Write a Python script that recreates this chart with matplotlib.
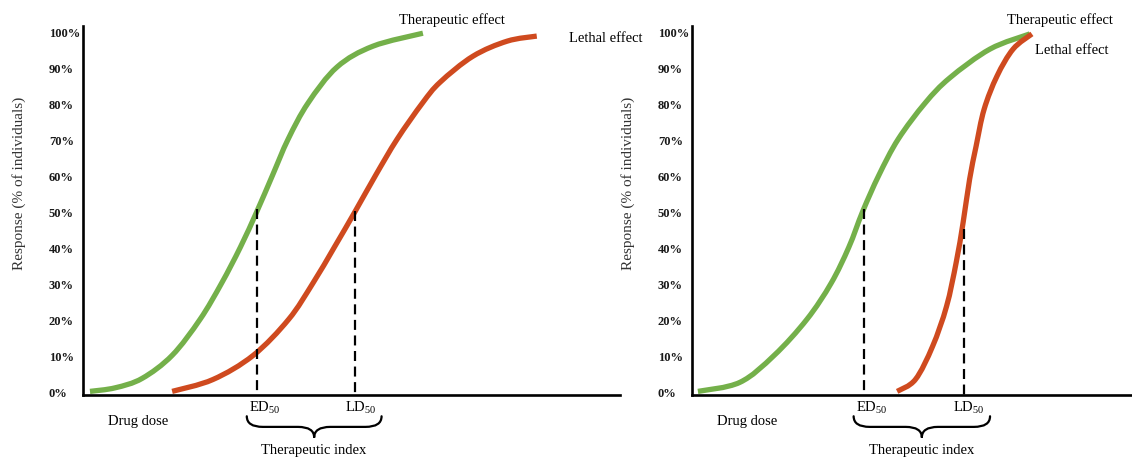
import matplotlib
matplotlib.use("Agg")
import matplotlib.pyplot as plt
from matplotlib.path import Path
from matplotlib.patches import PathPatch

plt.rcParams['font.family'] = ['Liberation Serif', 'DejaVu Serif']
plt.rcParams['mathtext.fontset'] = 'custom'
plt.rcParams['mathtext.rm'] = 'Liberation Serif'
plt.rcParams['mathtext.it'] = 'Liberation Serif'

GREEN = '#74B04A'
RED = '#CF4A1F'

# dose (arbitrary units) vs response (%)
# left panel: wide therapeutic index
left_ther_dose = [1.3, 6.0, 11.0, 16.6, 21.8, 25.8, 29.3, 32.4, 35.3, 38.2, 41.9, 47.3, 54.0, 63.3]
left_ther_resp = [0, 1, 3.6, 10, 20, 30, 40, 50, 60, 70, 80, 90, 95.8, 99.4]
left_leth_dose = [16.6, 24.2, 31.7, 38.3, 42.8, 46.8, 50.7, 54.5, 58.5, 63.2, 66.5, 72.6, 79.0, 84.5]
left_leth_resp = [0, 3.3, 10, 20, 30, 40, 50, 60, 70, 80, 85.8, 93, 97.2, 98.6]

# right panel: narrow therapeutic index
right_ther_dose = [1.1, 8.9, 15.3, 21.4, 25.9, 29.2, 31.8, 34.8, 38.4, 43.4, 48.0, 55.5, 62.9]
right_ther_resp = [0, 2.5, 10, 20, 30, 40, 50, 60, 70, 80, 87, 95, 99.2]
right_leth_dose = [38.2, 41.6, 44.8, 47.4, 49.2, 50.5, 51.7, 52.9, 54.4, 56.8, 59.8, 63.3]
right_leth_resp = [0, 3.3, 12.5, 23.6, 35.8, 47, 58.9, 68, 78.3, 87.5, 95, 99.2]

# ED50 / LD50 markers: (dose, top of dashed line)
left_ed50 = (32.4, 50.5)
left_ld50 = (50.7, 50)
right_ed50 = (32.0, 50.5)
right_ld50 = (50.6, 45)

yticks = list(range(0, 101, 10))
ytick_labels = [f"{v}%" for v in yticks]


def smooth_curve(ax, xs, ys, color):
    # Catmull-Rom through the read points, drawn as cubic Bezier segments
    pts = list(zip(xs, ys))
    ext = [pts[0]] + pts + [pts[-1]]
    verts = [pts[0]]
    codes = [Path.MOVETO]
    for i in range(1, len(ext) - 2):
        p0, p1, p2, p3 = ext[i - 1], ext[i], ext[i + 1], ext[i + 2]
        c1 = (p1[0] + (p2[0] - p0[0]) / 6, p1[1] + (p2[1] - p0[1]) / 6)
        c2 = (p2[0] - (p3[0] - p1[0]) / 6, p2[1] - (p3[1] - p1[1]) / 6)
        verts += [c1, c2, p2]
        codes += [Path.CURVE4] * 3
    ax.add_patch(PathPatch(Path(verts, codes), fill=False, lw=3.8,
                           edgecolor=color, capstyle='butt', joinstyle='round',
                           clip_on=False))


def brace(ax, x0, x1, ytop, ybot, d=3.0):
    xm = (x0 + x1) / 2
    ym = (ytop + ybot) / 2
    verts = [(x0, ytop), (x0, ym), (x0 + d, ym),
             (xm - d, ym),
             (xm, ym), (xm, ybot),
             (xm, ym), (xm + d, ym),
             (x1 - d, ym),
             (x1, ym), (x1, ytop)]
    codes = [Path.MOVETO, Path.CURVE3, Path.CURVE3,
             Path.LINETO,
             Path.CURVE3, Path.CURVE3,
             Path.CURVE3, Path.CURVE3,
             Path.LINETO,
             Path.CURVE3, Path.CURVE3]
    ax.add_patch(PathPatch(Path(verts, codes), fill=False, lw=1.6,
                           edgecolor='black', clip_on=False, capstyle='round'))


def panel(ax, ther, leth, ed50, ld50, xmax, ther_lbl, leth_lbl):
    smooth_curve(ax, ther[0], ther[1], GREEN)
    smooth_curve(ax, leth[0], leth[1], RED)
    for x, top in (ed50, ld50):
        ax.plot([x, x], [top, -1], color='black', lw=1.6, linestyle=(0, (4.5, 2.5)))
    ax.set_xlim(0, xmax)
    ax.set_ylim(-1, 101.4)
    for s in ('top', 'right'):
        ax.spines[s].set_visible(False)
    ax.spines['left'].set_linewidth(1.9)
    ax.spines['bottom'].set_linewidth(1.9)
    ax.set_xticks([])
    ax.set_yticks(yticks)
    ax.set_yticklabels(ytick_labels, fontsize=9, fontweight='bold',
                       color='#1a1a1a', ha='left')
    ax.tick_params(axis='y', length=0, pad=24.5)
    ax.set_ylabel('Response (% of individuals)', fontsize=11, color='#333333')
    ax.yaxis.set_label_coords(-57 / (537 * xmax / 100), 0.575)

    ax.text(ther_lbl[0], ther_lbl[1], 'Therapeutic effect', fontsize=10.5,
            ha='left', va='center', clip_on=False)
    ax.text(leth_lbl[0], leth_lbl[1], 'Lethal effect', fontsize=10.5,
            ha='left', va='center', clip_on=False)
    ax.text(4.7, -8.1, 'Drug dose', fontsize=10.5, ha='left', va='center')
    ax.text(ed50[0] + 1.4, -4.3, 'ED$_{50}$', fontsize=10.5, ha='center', va='center')
    ax.text(ld50[0] + 1.0, -4.3, 'LD$_{50}$', fontsize=10.5, ha='center', va='center')
    brace(ax, ed50[0] - 1.9, ld50[0] + 4.9, -6.9, -12.8)
    ax.text((ed50[0] + ld50[0]) / 2 + 1.4, -16.1, 'Therapeutic index',
            fontsize=10.5, ha='center', va='center')


fig = plt.figure(figsize=(11.32, 4.6), dpi=100)
ax1 = fig.add_axes([83 / 1132, 64 / 460, 537 / 1132, 369 / 460])
ax2 = fig.add_axes([692 / 1132, 64 / 460, 440 / 1132, 369 / 460])

panel(ax1, (left_ther_dose, left_ther_resp), (left_leth_dose, left_leth_resp),
      left_ed50, left_ld50, 100, (58.8, 103.3), (90.5, 98.3))
panel(ax2, (right_ther_dose, right_ther_resp), (right_leth_dose, right_leth_resp),
      right_ed50, right_ld50, 440 / 5.37, (58.7, 103.3), (63.9, 95))

fig.savefig('out.png', dpi=100)
